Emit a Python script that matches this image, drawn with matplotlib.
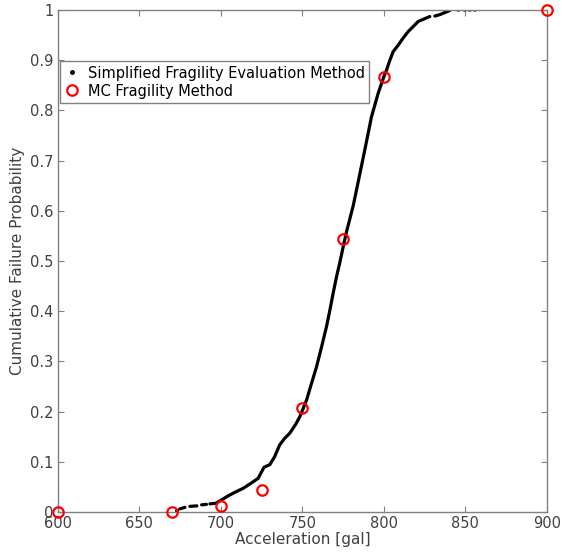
import numpy as np
import matplotlib
matplotlib.use("Agg")
import matplotlib.pyplot as plt
from matplotlib.lines import Line2D

# simplified method: empirical CDF, NaN marks gaps between sparse samples
sfe_acc = [672.8, 673.4, np.nan,
           674.8, 677.9, np.nan,
           681.0, 685.3, np.nan,
           688.2, 691.2, np.nan,
           693.3, 696.3, np.nan,
           697.4, 703.5, 708.0, 713.7, 718.0, 722.9, 725.0, 726.5, 730.0,
           733.0, 736.0, 739.0, 742.3, 746.0, 748.5, 752.6, 755.6, 758.7,
           761.8, 764.8, 766.9, 768.9, 771.0, 773.0, 775.3, 777.1, 781.2,
           783.2, 785.3, 788.3, 792.4, 796.5, 800.2, 801.6, 803.7, 805.7,
           808.8, 811.8, 814.9, 818.0, 821.0, 825.2, 828.2, np.nan,
           831.3, 834.5, 837.4, 840.5, np.nan,
           845.3, 845.9, np.nan,
           849.4, 850.0, np.nan,
           852.5, 853.1, np.nan,
           855.5, 856.1]
sfe_prob = [0.002, 0.003, np.nan,
            0.006, 0.009, np.nan,
            0.011, 0.012, np.nan,
            0.014, 0.015, np.nan,
            0.016, 0.017, np.nan,
            0.018, 0.030, 0.038, 0.047, 0.056, 0.067, 0.080, 0.089, 0.094,
            0.110, 0.133, 0.146, 0.157, 0.175, 0.190, 0.223, 0.256, 0.289,
            0.329, 0.369, 0.402, 0.436, 0.469, 0.497, 0.532, 0.558, 0.610,
            0.641, 0.674, 0.721, 0.787, 0.834, 0.869, 0.880, 0.900, 0.917,
            0.930, 0.944, 0.957, 0.967, 0.977, 0.983, 0.987, np.nan,
            0.988, 0.991, 0.995, 0.999, np.nan,
            1.0, 1.0, np.nan,
            1.0, 1.0, np.nan,
            1.0, 1.0, np.nan,
            1.0, 1.0]

# Monte Carlo fragility results
mc_acc = [600, 670, 700, 725, 750, 775, 800, 900]
mc_prob = [0.0, 0.0, 0.011, 0.043, 0.207, 0.543, 0.867, 1.0]

grey = "#808080"
txt = "#404040"

fig = plt.figure(figsize=(5.62, 5.57), dpi=100)
ax = fig.add_axes([0.103, 0.081, 0.870, 0.901])

ax.plot(sfe_acc, sfe_prob, color="black", lw=2.3, solid_capstyle="round",
        solid_joinstyle="round", zorder=2)
ax.plot(mc_acc, mc_prob, "o", mfc="none", mec="red", ms=7.5, mew=1.6,
        clip_on=False, zorder=3)

ax.set_xlim(600, 900)
ax.set_ylim(0, 1)
ax.set_xticks(np.arange(600, 901, 50))
ax.set_yticks(np.arange(0, 1.01, 0.1))
ax.set_yticklabels(["0", "0.1", "0.2", "0.3", "0.4", "0.5", "0.6", "0.7",
                    "0.8", "0.9", "1"])
ax.tick_params(direction="in", top=True, right=True, length=4, width=0.8,
               color=grey, labelcolor=txt, labelsize=10.5, pad=3)
for s in ax.spines.values():
    s.set_color(grey)
    s.set_linewidth(1.0)

ax.set_xlabel("Acceleration [gal]", fontsize=11, color=txt, labelpad=1)
ax.set_ylabel("Cumulative Failure Probability", fontsize=11, color=txt,
              labelpad=4)

handles = [
    Line2D([], [], ls="none", marker=".", color="black", ms=5),
    Line2D([], [], ls="none", marker="o", mfc="none", mec="red", ms=7.5,
           mew=1.6),
]
leg = ax.legend(handles, ["Simplified Fragility Evaluation Method",
                          "MC Fragility Method"],
                loc="upper left", bbox_to_anchor=(0.004, 0.898),
                borderaxespad=0, fontsize=10.5, frameon=True, fancybox=False,
                handlelength=1.0, handletextpad=0.6, borderpad=0.3,
                labelspacing=0.2)
leg.get_frame().set_edgecolor(grey)
leg.get_frame().set_linewidth(1.0)
leg.get_frame().set_alpha(1)

fig.savefig("out.png", dpi=100)
